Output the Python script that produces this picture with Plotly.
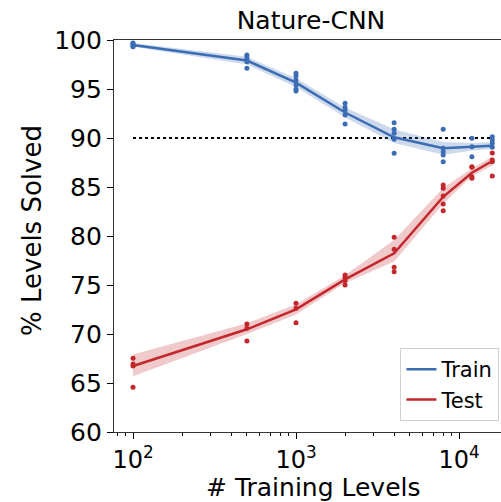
import plotly.graph_objects as go

# ---- data ----
levels = [100, 500, 1000, 2000, 4000, 8000, 12000, 16000]

train_mean = [99.5, 97.9, 95.65, 92.6, 90.07, 88.95, 89.1, 89.2]
train_low = [99.3, 97.5, 95.2, 92.1, 89.5, 88.3, 88.7, 88.9]
train_high = [99.7, 98.3, 96.1, 93.1, 90.9, 89.6, 89.5, 89.6]
train_runs = [
    [99.7, 99.6, 99.5, 99.4, 99.3],
    [98.47, 98.3, 98.03, 97.79, 97.11],
    [96.6, 96.33, 95.92, 95.41, 94.97, 94.8],
    [93.54, 93.13, 92.86, 92.35, 91.43],
    [91.56, 90.89, 90.48, 89.87, 88.44],
    [90.89, 88.95, 88.6, 88.27, 87.58],
    [89.97, 89.11, 88.09],
    [90.13, 89.8, 89.46, 89.05],
]

test_mean = [66.73, 70.48, 72.52, 75.58, 78.23, 84.0, 86.46, 87.65]
test_low = [65.7, 70.0, 72.0, 75.2, 77.4, 83.3, 86.1, 87.2]
test_high = [67.9, 71.1, 73.0, 76.0, 79.6, 84.9, 86.9, 88.1]
test_runs = [
    [67.52, 66.94, 66.73, 64.56],
    [71.02, 70.58, 69.29],
    [73.13, 72.62, 71.15],
    [76.02, 75.79, 75.44, 75.0],
    [79.87, 78.64, 76.8, 76.36],
    [85.2, 84.87, 84.08, 83.27, 82.58],
    [87.07, 87.01, 86.05, 85.89],
    [88.47, 87.76, 87.58, 86.12],
]

threshold = 90
major_ticks = [100, 1000, 10000]
major_labels = ["10<sup>2</sup>", "10<sup>3</sup>", "10<sup>4</sup>"]
minor_ticks = [80, 90, 200, 300, 400, 500, 600, 700, 800, 900,
               2000, 3000, 4000, 5000, 6000, 7000, 8000, 9000]
yticks = [60, 65, 70, 75, 80, 85, 90, 95, 100]

BLUE = "#3b6db4"
RED = "#c3262b"
BLUE_FILL = "rgba(59,109,180,0.25)"
RED_FILL = "rgba(195,38,43,0.25)"
FONT = "DejaVu Sans"

fig = go.Figure()

# threshold dotted line
fig.add_trace(go.Scatter(x=[levels[0], levels[-1]], y=[threshold, threshold],
                         mode="lines", line=dict(color="black", width=2, dash="dot"),
                         showlegend=False, hoverinfo="skip"))

def add_series(name, mean, low, high, runs, color, fill):
    fig.add_trace(go.Scatter(x=levels + levels[::-1], y=high + low[::-1],
                             fill="toself", fillcolor=fill, line=dict(width=0),
                             mode="lines", showlegend=False, hoverinfo="skip"))
    xs, ys = [], []
    for lv, r in zip(levels, runs):
        xs += [lv] * len(r)
        ys += r
    fig.add_trace(go.Scatter(x=xs, y=ys, mode="markers",
                             marker=dict(color=color, size=5),
                             showlegend=False))
    fig.add_trace(go.Scatter(x=levels, y=mean, mode="lines", name=name,
                             line=dict(color=color, width=2.5)))

add_series("Train", train_mean, train_low, train_high, train_runs, BLUE, BLUE_FILL)
add_series("Test", test_mean, test_low, test_high, test_runs, RED, RED_FILL)

W, H = 501, 502
L, T, B = 114, 40, 70
plot_w = W - L
px_per_dec = 163.0
xmin = 2 - (133 - L) / px_per_dec
xmax = xmin + plot_w / px_per_dec

fig.update_layout(
    width=W, height=H,
    margin=dict(l=L, r=0, t=T, b=B),
    paper_bgcolor="white", plot_bgcolor="white",
    font=dict(family=FONT, color="black", size=25),
    title=dict(text="Nature-CNN", x=(311 - L) / plot_w, xref="paper", xanchor="center",
               y=1 - 20 / H, yanchor="middle", font=dict(size=25)),
    legend=dict(x=0.996, y=0.028, xanchor="right", yanchor="bottom",
                bgcolor="white", bordercolor="#d0d0d0", borderwidth=1,
                font=dict(size=21)),
    showlegend=True,
)

fig.update_xaxes(type="log", range=[xmin, xmax],
                 tickvals=major_ticks, ticktext=major_labels,
                 ticks="outside", ticklen=6, tickwidth=1.2, tickcolor="black",
                 showline=True, linecolor="#333333", linewidth=1.3, mirror=True,
                 showgrid=False, zeroline=False,
                 tickfont=dict(size=24),
                 minor=dict(tickvals=minor_ticks, ticks="outside", ticklen=3,
                            tickwidth=1, tickcolor="black", showgrid=False))
fig.update_yaxes(range=[60, 100], tickvals=yticks,
                 ticks="outside", ticklen=6, tickwidth=1.2, tickcolor="black",
                 showline=True, linecolor="#333333", linewidth=1.3,
                 showgrid=False, zeroline=False, tickfont=dict(size=25))

fig.add_annotation(text="# Training Levels", xref="paper", yref="paper",
                   x=(313 - L) / plot_w, y=-(489 - 434) / 392.0,
                   xanchor="center", yanchor="middle", showarrow=False,
                   font=dict(size=25))
fig.add_annotation(text="% Levels Solved", xref="paper", yref="paper",
                   x=-(114 - 32) / plot_w, y=(434 - 233) / 392.0, textangle=-90,
                   xanchor="center", yanchor="middle", showarrow=False,
                   font=dict(size=26))

fig.write_html("out.html")
